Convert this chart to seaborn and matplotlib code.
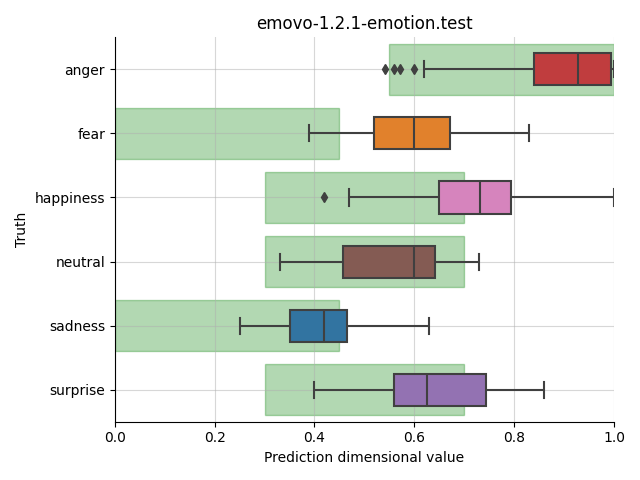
import matplotlib
matplotlib.use("Agg")
import matplotlib.pyplot as plt
import seaborn as sns
import pandas as pd

categories = ["anger", "fear", "happiness", "neutral", "sadness", "surprise"]
colors = ["tab:red", "tab:orange", "tab:pink", "tab:brown", "tab:blue", "tab:purple"]

# box statistics
whisker_low = [0.62, 0.39, 0.47, 0.33, 0.25, 0.40]
q1 = [0.84, 0.52, 0.649, 0.457, 0.351, 0.56]
median = [0.927, 0.60, 0.732, 0.60, 0.42, 0.626]
q3 = [0.994, 0.671, 0.794, 0.641, 0.465, 0.744]
whisker_high = [1.0, 0.83, 1.0, 0.73, 0.63, 0.86]
outliers_low = [[0.541, 0.56, 0.571, 0.60], [], [0.42], [], [], []]

# target ranges (green bands)
range_low = [0.55, 0.0, 0.3, 0.3, 0.0, 0.3]
range_high = [1.0, 0.45, 0.7, 0.7, 0.45, 0.7]

rows = []
for i, c in enumerate(categories):
    low = outliers_low[i] + [whisker_low[i]]
    vals = low + [q1[i]] * (20 - len(low)) + [median[i]] + [q3[i]] * 19 + [whisker_high[i]]
    rows += [(c, v) for v in vals]
df = pd.DataFrame(rows, columns=["Truth", "value"])

fig, ax = plt.subplots(figsize=(6.4, 4.8), dpi=100)

ax.barh(y=range(len(categories)), width=[h - l for l, h in zip(range_low, range_high)],
        left=range_low, height=0.8, color="green", alpha=0.3, edgecolor="green",
        linewidth=1, zorder=0.5)

sns.boxplot(data=df, x="value", y="Truth", hue="Truth", order=categories,
            hue_order=categories, palette=colors, legend=False, width=0.5,
            linecolor=".25", linewidth=1.5, ax=ax,
            flierprops=dict(marker="d", markerfacecolor=".25",
                            markeredgecolor=".25", markersize=5))

ax.grid(True, alpha=0.5)
ax.set_xlim(0, 1)
ax.set_title("emovo-1.2.1-emotion.test")
ax.set_xlabel("Prediction dimensional value")
ax.set_ylabel("Truth")
sns.despine(ax=ax)
fig.tight_layout()
fig.savefig("out.png", dpi=100)
